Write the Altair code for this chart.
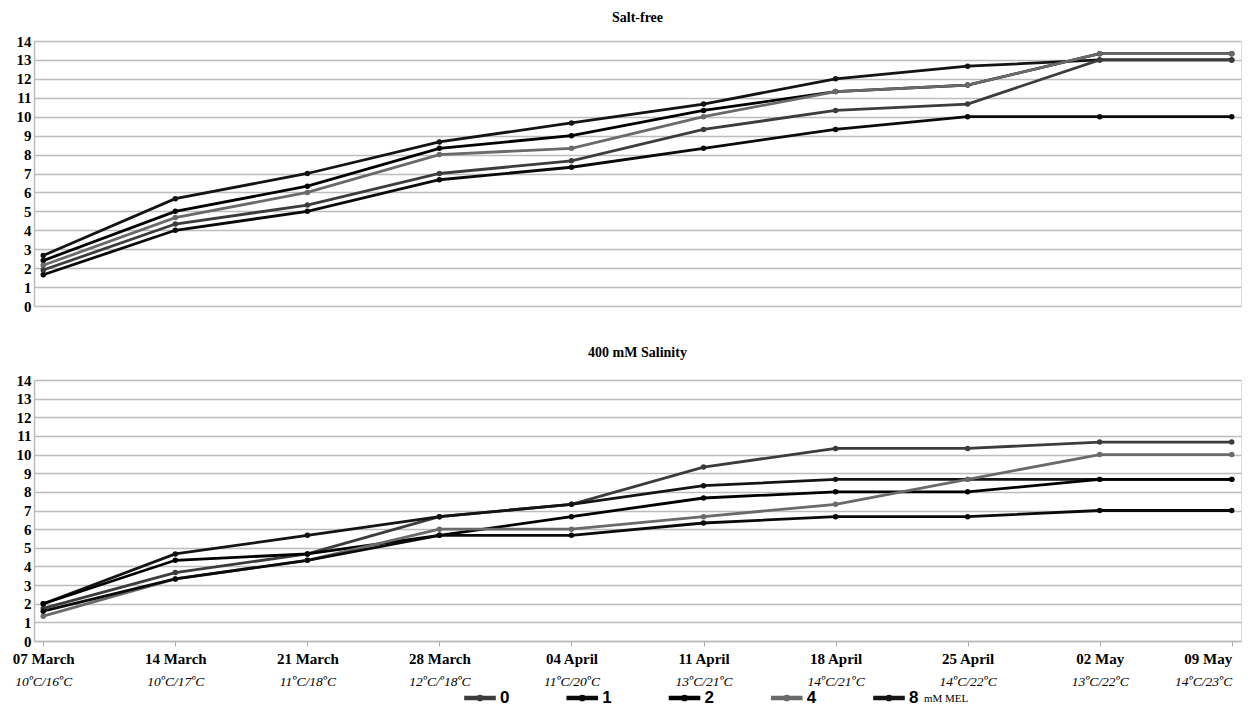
import altair as alt
import pandas as pd

dates = ["07 March", "14 March", "21 March", "28 March", "04 April",
         "11 April", "18 April", "25 April", "02 May", "09 May"]
temps = ["10ºC/16ºC", "10ºC/17ºC", "11ºC/18ºC", "12ºC/º18ºC", "11ºC/20ºC",
         "13ºC/21ºC", "14ºC/21ºC", "14ºC/22ºC", "13ºC/22ºC", "14ºC/23ºC"]
doses = ["0", "1", "2", "4", "8"]
dose_colors = ["#3c3c3c", "#0a0a0a", "#000000", "#6a6a6a", "#141414"]
legend_unit = "mM MEL"

# Salt-free
salt_free = {
    "8": [2.67, 5.67, 7.0, 8.67, 9.67, 10.67, 12.0, 12.67, 13.0, 13.0],
    "2": [2.4, 5.0, 6.33, 8.33, 9.0, 10.33, 11.33, 11.67, 13.33, 13.33],
    "4": [2.15, 4.67, 6.0, 8.0, 8.33, 10.0, 11.33, 11.67, 13.33, 13.33],
    "0": [1.9, 4.33, 5.33, 7.0, 7.67, 9.33, 10.33, 10.67, 13.0, 13.0],
    "1": [1.65, 4.0, 5.0, 6.67, 7.33, 8.33, 9.33, 10.0, 10.0, 10.0],
}
# 400 mM salinity
salinity = {
    "0": [1.75, 3.67, 4.67, 6.67, 7.33, 9.33, 10.33, 10.33, 10.67, 10.67],
    "8": [2.0, 4.67, 5.67, 6.67, 7.33, 8.33, 8.67, 8.67, 8.67, 8.67],
    "2": [2.0, 4.33, 4.67, 5.67, 6.67, 7.67, 8.0, 8.0, 8.67, 8.67],
    "4": [1.33, 3.33, 4.33, 6.0, 6.0, 6.67, 7.33, 8.67, 10.0, 10.0],
    "1": [1.6, 3.33, 4.33, 5.67, 5.67, 6.33, 6.67, 6.67, 7.0, 7.0],
}


def to_df(series):
    rows = []
    for dose, vals in series.items():
        for d, v in zip(dates, vals):
            rows.append({"date": d, "dose": dose, "value": v})
    return pd.DataFrame(rows)


temp_df = pd.DataFrame({"temp": temps})
legend_df = pd.DataFrame({"dose": doses})
unit_df = pd.DataFrame({"dose": [doses[-1]], "t": [legend_unit]})

FONT = "Liberation Serif, Times New Roman, serif"
SANS = "Liberation Sans, Arial, sans-serif"
W = 1207
y_vals = list(range(0, 15))
EDGE_ALIGN = {"expr": "datum.index >= 0.999 ? 'right' : 'center'"}

color = alt.Color("dose:N", scale=alt.Scale(domain=doses, range=dose_colors), legend=None)
legend_x = alt.X("dose:N", scale=alt.Scale(domain=doses, range=[446, 855], padding=0),
                 axis=None)


def panel(series, title, h, show_x, title_offset):
    df = to_df(series)
    if show_x:
        xaxis = alt.Axis(title=None, labelAngle=0, labelFont=FONT, labelFontSize=15,
                         labelFontWeight="bold", labelColor="#000", labelPadding=5,
                         labelAlign=EDGE_ALIGN, orient="bottom",
                         ticks=True, tickColor="#aaa", tickSize=5, domainColor="#bbb",
                         domainWidth=1.5, grid=False)
    else:
        xaxis = alt.Axis(title=None, labels=False, ticks=False, domain=False, grid=False)
    x = alt.X("date:N", sort=dates, scale=alt.Scale(padding=0.07), axis=xaxis)
    y = alt.Y("value:Q", scale=alt.Scale(domain=[0, 14], nice=False),
              axis=alt.Axis(title=None, values=y_vals, labelFont=FONT, labelFontSize=15,
                            labelFontWeight="bold", labelColor="#000", ticks=False,
                            labelPadding=3, gridColor="#bdbdbd", gridWidth=1.5,
                            domainColor="#bbb", domainWidth=1.5))
    lines = alt.Chart(df).mark_line(
        strokeWidth=2.8,
        point=alt.OverlayMarkDef(filled=True, size=30),
    ).encode(x=x, y=y, color=color, detail="dose:N")
    layers = [lines]
    if show_x:
        temp_axis = alt.Chart(temp_df).mark_point(opacity=0).encode(
            x=alt.X("temp:N", sort=temps, scale=alt.Scale(padding=0.07),
                    axis=alt.Axis(title=None, orient="bottom", offset=29, labelPadding=4,
                                  labelAngle=0, labelAlign=EDGE_ALIGN, labelFont=FONT,
                                  labelFontSize=13.5, labelFontStyle="italic",
                                  labelColor="#000", ticks=False, domain=False, grid=False)),
            y=alt.value(h),
        )
        ly = alt.value(h + 57)
        leg_line = alt.Chart(legend_df).mark_point(
            shape="stroke", size=1000, strokeWidth=4.5, opacity=1
        ).encode(x=legend_x, y=ly, color=color)
        leg_dot = alt.Chart(legend_df).mark_point(
            shape="circle", size=45, filled=True, opacity=1
        ).encode(x=legend_x, y=ly, color=color)
        leg_lab = alt.Chart(legend_df).mark_text(
            align="left", baseline="middle", dx=20, font=SANS, fontSize=17,
            fontWeight="bold", color="#000"
        ).encode(x=legend_x, y=ly, text="dose:N")
        leg_unit = alt.Chart(unit_df).mark_text(
            align="left", baseline="middle", dx=35, dy=1, font=FONT, fontSize=11,
            color="#000"
        ).encode(x=legend_x, y=ly, text="t:N")
        layers += [temp_axis, leg_line, leg_dot, leg_lab, leg_unit]
    ch = alt.layer(*layers).properties(
        width=W, height=h,
        title=alt.TitleParams(title, font=FONT, fontSize=14, fontWeight="bold",
                              color="#000", offset=title_offset),
    )
    if show_x:
        ch = ch.resolve_scale(x="independent")
    return ch


top = panel(salt_free, "Salt-free", 265, False, 9)
bottom = panel(salinity, "400 mM Salinity", 261, True, 13)

chart = alt.vconcat(top, bottom, spacing=30).configure_view(stroke=None).configure(
    background="white", padding={"left": 3, "right": 0, "top": 2, "bottom": 0}
)

chart.save("out.html", embed_options={"renderer": "svg", "actions": False})
